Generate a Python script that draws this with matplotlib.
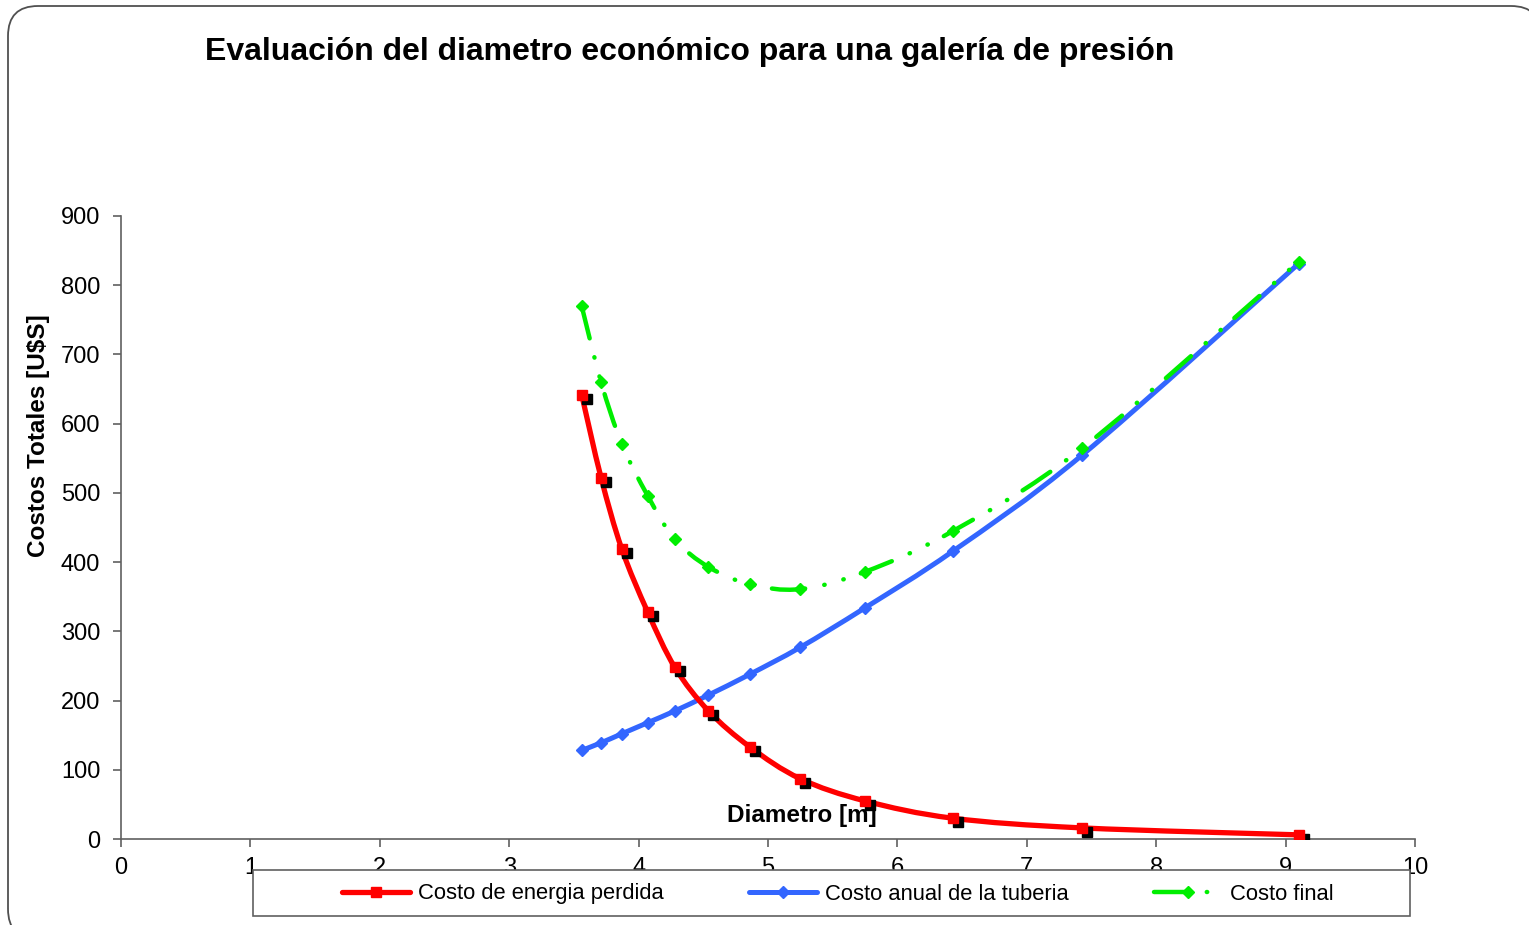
import numpy as np
import matplotlib
matplotlib.use("Agg")
import matplotlib.pyplot as plt
from matplotlib.path import Path
from matplotlib.patches import PathPatch, Rectangle
from matplotlib.lines import Line2D
from matplotlib.transforms import offset_copy

plt.rcParams['font.family'] = ['Liberation Sans', 'DejaVu Sans']
plt.rcParams['lines.scale_dashes'] = False

# diametro [m] y costos [U$S]
diametro = [3.56, 3.71, 3.87, 4.07, 4.28, 4.54, 4.86, 5.25, 5.75, 6.43, 7.43, 9.10]
costo_energia = [642, 522, 419, 328, 248, 185, 133, 87, 55, 30, 16, 6]
costo_tuberia = [128, 139, 152, 168, 185, 208, 238, 277, 334, 416, 555, 831]
costo_final = [770, 660, 571, 496, 433, 393, 368, 361, 386, 445, 565, 834]

ROJO = '#ff0000'
AZUL = '#3366ff'
VERDE = '#00ee00'
GRIS = '#606060'

W, H = 1529, 925


def curva_suave(x, y):
    """curva tipo excel: bezier con puntos de control de catmull-rom"""
    p = np.column_stack([x, y]).astype(float)
    verts = [p[0]]
    codes = [Path.MOVETO]
    n = len(p)
    for i in range(n - 1):
        p0 = p[i - 1] if i > 0 else p[i]
        p3 = p[i + 2] if i + 2 < n else p[i + 1]
        c1 = p[i] + (p[i + 1] - p0) / 6.0
        c2 = p[i + 1] - (p3 - p[i]) / 6.0
        verts += [c1, c2, p[i + 1]]
        codes += [Path.CURVE4] * 3
    return Path(verts, codes)


def marco_redondeado(x0, y0, x1, y1, r):
    """rectangulo con esquinas redondeadas, coordenadas de figura en pixeles"""
    verts = [(x0, y0 + r), (x0, y1 - r), (x0, y1), (x0 + r, y1),
             (x1 - r, y1), (x1, y1), (x1, y1 - r),
             (x1, y0 + r), (x1, y0), (x1 - r, y0),
             (x0 + r, y0), (x0, y0), (x0, y0 + r)]
    codes = [Path.MOVETO, Path.LINETO, Path.CURVE3, Path.CURVE3,
             Path.LINETO, Path.CURVE3, Path.CURVE3,
             Path.LINETO, Path.CURVE3, Path.CURVE3,
             Path.LINETO, Path.CURVE3, Path.CURVE3]
    v = np.array(verts, float) / np.array([W, H])
    return Path(v, codes)


fig = plt.figure(figsize=(W / 100, H / 100), dpi=100)

# marco de la diapositiva, se sale por la derecha y por abajo
# (relleno blanco para que agg no lo recorte contra el borde)
marco = PathPatch(marco_redondeado(8, -14, 1541, H - 6, 30), transform=fig.transFigure,
                  fc='white', ec='#505050', lw=1.3, zorder=-1)
fig.add_artist(marco)

ax = fig.add_axes([121 / W, 1 - 839 / H, (1415 - 121) / W, (839 - 216) / H])
ax.patch.set_alpha(0)

# lineas suavizadas
ax.add_patch(PathPatch(curva_suave(diametro, costo_energia), fill=False, ec=ROJO, lw=3.8,
                       capstyle='round', joinstyle='round', zorder=3))
ax.add_patch(PathPatch(curva_suave(diametro, costo_tuberia), fill=False, ec=AZUL, lw=3.6,
                       capstyle='round', joinstyle='round', zorder=2))
rayas = (0, (24, 14, 0.3, 14, 0.3, 13))
ax.add_patch(PathPatch(curva_suave(diametro, costo_final), fill=False, ec=VERDE, lw=3.2,
                       linestyle=rayas, capstyle='round', joinstyle='round', zorder=2))

# marcadores (sombra negra debajo de los rojos)
sombra = offset_copy(ax.transData, fig=fig, x=5, y=-4, units='dots')
ax.plot(diametro, costo_energia, ls='none', marker='s', ms=6.5, color='black',
        transform=sombra, zorder=3)
ax.plot(diametro, costo_energia, ls='none', marker='s', ms=7.5, color=ROJO, zorder=4)
ax.plot(diametro, costo_tuberia, ls='none', marker='D', ms=6.2, color=AZUL, zorder=3)
ax.plot(diametro, costo_final, ls='none', marker='D', ms=6.2, color=VERDE, zorder=3)

ax.set_xlim(0, 10)
ax.set_ylim(0, 900)
ax.set_xticks(np.arange(0, 11, 1))
ax.set_yticks(np.arange(0, 901, 100))
for s in ['top', 'right']:
    ax.spines[s].set_visible(False)
for s in ['left', 'bottom']:
    ax.spines[s].set_color(GRIS)
    ax.spines[s].set_linewidth(1.2)
ax.tick_params(axis='both', direction='out', length=6, width=1.2, color=GRIS,
               labelsize=17, labelcolor='black')
ax.tick_params(axis='y', pad=9)
ax.tick_params(axis='x', pad=7)

ax.set_xlabel('Diametro [m]', fontsize=17.5, fontweight='bold', va='center')
ax.xaxis.set_label_coords(0.526, 0.038)
ax.set_ylabel('Costos Totales [U$S]', fontsize=17.5, fontweight='bold', va='center')
ax.yaxis.set_label_coords(-0.064, 0.647)

fig.text(205 / W, 1 - 52 / H, 'Evaluación del diametro económico para una galería de presión',
         fontsize=23, fontweight='bold', ha='left', va='center')

# leyenda en caja abajo
caja = Rectangle((253 / W, 1 - 916 / H), (1410 - 253) / W, 46 / H,
                 transform=fig.transFigure, fc='white', ec=GRIS, lw=1.2, zorder=4)
fig.add_artist(caja)
handles = [
    Line2D([], [], color=ROJO, lw=3.8, marker='s', ms=7.5, solid_capstyle='round'),
    Line2D([], [], color=AZUL, lw=3.6, marker='D', ms=6.2, solid_capstyle='round'),
    Line2D([], [], color=VERDE, lw=3.2, marker='D', ms=6.2, ls=(0, (24, 14, 0.3, 14)),
           dash_capstyle='round'),
]
labels = ['Costo de energia perdida', 'Costo anual de la tuberia', 'Costo final']
leg = fig.legend(handles, labels, loc='center',
                 bbox_to_anchor=(838 / W, 1 - 894 / H), ncol=3, frameon=False,
                 fontsize=15.8, handlelength=3.1, handletextpad=0.35, columnspacing=3.9)
leg.set_zorder(5)

fig.savefig('out.png', dpi=100)
